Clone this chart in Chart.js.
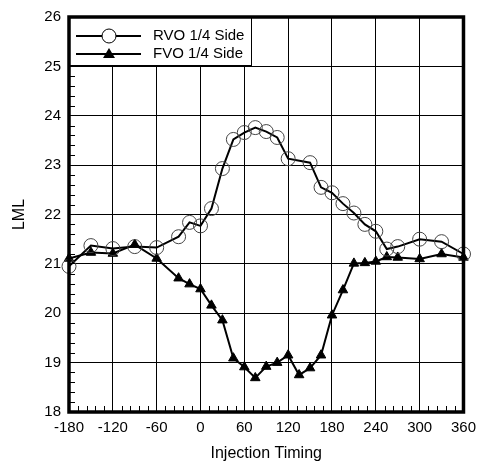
<!DOCTYPE html>
<html>
<head>
<meta charset="utf-8">
<script src="https://cdn.jsdelivr.net/npm/chart.js@4"></script>
<style>
  html, body { margin: 0; padding: 0; background: #fff; }
  #wrap { width: 483px; height: 467px; }
</style>
</head>
<body>
<div id="wrap"><canvas id="c"></canvas></div>
<script>
// данные
const rvoX = [-180,-150,-120,-90,-60,-30,-15,0,15,30,45,60,75,90,105,120,150,165,180,195,210,225,240,255,270,300,330,360];
const rvoY = [20.95,21.37,21.31,21.35,21.33,21.55,21.84,21.77,22.12,22.93,23.52,23.66,23.76,23.68,23.56,23.13,23.05,22.55,22.44,22.22,22.03,21.8,21.66,21.3,21.35,21.5,21.45,21.2];
const fvoX = [-180,-150,-120,-90,-60,-30,-15,0,15,30,45,60,75,90,105,120,135,150,165,180,195,210,225,240,255,270,300,330,360];
const fvoY = [21.11,21.23,21.21,21.39,21.11,20.71,20.59,20.49,20.16,19.86,19.09,18.91,18.69,18.92,19.0,19.15,18.75,18.89,19.15,19.96,20.47,21.01,21.02,21.05,21.14,21.13,21.1,21.2,21.13];
const seriesNames = ['RVO 1/4 Side', 'FVO 1/4 Side'];
const xTicks = [-180,-120,-60,0,60,120,180,240,300,360];
const yTicks = [18,19,20,21,22,23,24,25,26];

const FONT = '"Liberation Sans", Arial, Helvetica, sans-serif';
const toPts = (xs, ys) => xs.map((x, i) => ({ x, y: ys[i] }));

// рамка, мелкие деления и легенда внутри поля
const extras = {
  id: 'extras',
  afterDraw(chart) {
    const { ctx, chartArea: a, scales: { x, y } } = chart;
    ctx.save();
    ctx.strokeStyle = '#000';
    ctx.lineWidth = 1;
    ctx.beginPath();
    for (let v = -180; v <= 360; v += 12) {
      if (v % 60 === 0) continue;
      const px = Math.round(x.getPixelForValue(v)) + 0.5;
      ctx.moveTo(px, a.bottom); ctx.lineTo(px, a.bottom - 6);
    }
    for (let k = 0; k <= 40; k++) {
      if (k % 5 === 0) continue;
      const py = Math.round(y.getPixelForValue(18 + k * 0.2)) + 0.5;
      ctx.moveTo(a.left, py); ctx.lineTo(a.left + 6, py);
    }
    ctx.stroke();

    // легенда
    const lx = a.left, ly = a.top, lw = 182, lh = 48;
    ctx.fillStyle = '#fff';
    ctx.fillRect(lx, ly, lw, lh);
    ctx.lineWidth = 1;
    ctx.strokeRect(lx + 0.5, ly + 0.5, lw, lh);
    const rows = [ly + 19, ly + 37];
    ctx.font = '15px ' + FONT;
    ctx.textBaseline = 'middle';
    rows.forEach((ry, i) => {
      ctx.lineWidth = 2;
      ctx.beginPath();
      ctx.moveTo(lx + 7, ry); ctx.lineTo(lx + 72, ry);
      ctx.stroke();
      const mx = lx + 40;
      if (i === 0) {
        ctx.fillStyle = '#fff';
        ctx.lineWidth = 1;
        ctx.beginPath(); ctx.arc(mx, ry, 7, 0, Math.PI * 2); ctx.fill(); ctx.stroke();
      } else {
        ctx.fillStyle = '#000';
        ctx.beginPath();
        ctx.moveTo(mx, ry - 6); ctx.lineTo(mx + 6, ry + 4); ctx.lineTo(mx - 6, ry + 4);
        ctx.closePath(); ctx.fill();
      }
      ctx.fillStyle = '#000';
      ctx.fillText(seriesNames[i], lx + 84, ry);
    });

    // толстая рамка
    ctx.lineWidth = 3.5;
    ctx.strokeRect(a.left, a.top, a.right - a.left, a.bottom - a.top);
    ctx.restore();
  }
};

new Chart(document.getElementById('c'), {
  type: 'line',
  data: {
    datasets: [{
      label: seriesNames[0],
      data: toPts(rvoX, rvoY),
      borderColor: '#000',
      borderWidth: 2,
      pointStyle: 'circle',
      pointRadius: 7,
      pointBorderWidth: 1,
      pointBorderColor: '#444',
      pointBackgroundColor: 'rgba(0,0,0,0)',
      tension: 0,
      clip: false
    }, {
      label: seriesNames[1],
      data: toPts(fvoX, fvoY),
      borderColor: '#000',
      borderWidth: 2,
      pointStyle: 'triangle',
      pointRadius: 5.5,
      pointBorderWidth: 1,
      pointBorderColor: '#000',
      pointBackgroundColor: '#000',
      tension: 0,
      clip: false
    }]
  },
  options: {
    responsive: true,
    maintainAspectRatio: false,
    animation: false,
    layout: { padding: { left: 0, right: 16, top: 16, bottom: 0 } },
    plugins: { legend: { display: false }, tooltip: { enabled: false } },
    scales: {
      x: {
        type: 'linear',
        min: -180, max: 360,
        afterBuildTicks: s => { s.ticks = xTicks.map(v => ({ value: v })); },
        afterFit: s => { s.height = 55; },
        grid: { color: '#000', lineWidth: 1, drawTicks: false },
        border: { display: false },
        ticks: { color: '#000', padding: 7, font: { family: FONT, size: 15 } },
        title: { display: true, text: 'Injection Timing', color: '#000', padding: { top: 0 }, font: { family: FONT, size: 16 } }
      },
      y: {
        min: 18, max: 26,
        afterBuildTicks: s => { s.ticks = yTicks.map(v => ({ value: v })); },
        afterFit: s => { s.width = 69; },
        grid: { color: '#000', lineWidth: 1, drawTicks: false },
        border: { display: false },
        ticks: { color: '#000', padding: 8, font: { family: FONT, size: 15 } },
        title: { display: true, text: 'LML', color: '#000', padding: { top: 10, bottom: 4 }, font: { family: FONT, size: 16 } }
      }
    }
  },
  plugins: [extras]
});
</script>
</body>
</html>
